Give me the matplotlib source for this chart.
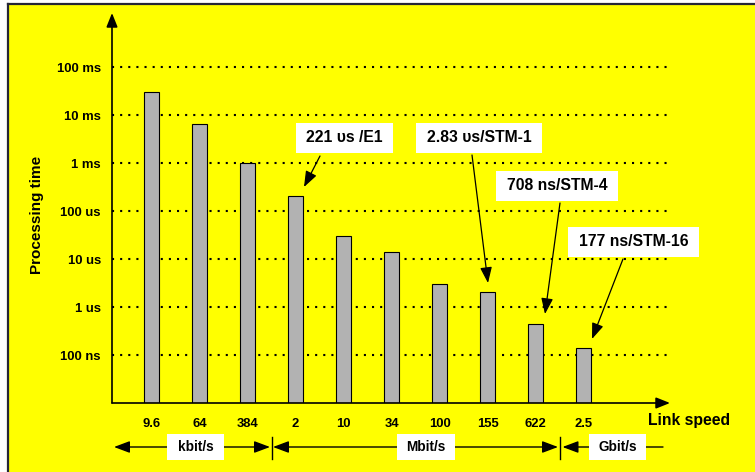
import matplotlib
matplotlib.use("Agg")
import matplotlib.pyplot as plt
from matplotlib.patches import Rectangle, FancyArrowPatch
from matplotlib.lines import Line2D

# ---- data ----
categories = ["9.6", "64", "384", "2", "10", "34", "100", "155", "622", "2.5"]
proc_time_s = [30e-3, 6.6e-3, 1.0e-3, 210e-6, 30e-6, 14e-6, 3.0e-6, 2.1e-6, 0.45e-6, 0.14e-6]
ytick_vals = [1e-7, 1e-6, 1e-5, 1e-4, 1e-3, 1e-2, 1e-1]
ytick_labels = ["100 ns", "1 us", "10 us", "100 us", "1 ms", "10 ms", "100 ms"]
annotations = ["221 \u03c5s /E1", "2.83 \u03c5s/STM-1", "708 ns/STM-4", "177 ns/STM-16"]
unit_labels = ["kbit/s", "Mbit/s", "Gbit/s"]

W, H = 755, 472
plt.rcParams['font.family'] = ['Liberation Sans', 'DejaVu Sans']
plt.rcParams['font.weight'] = 'bold'

fig = plt.figure(figsize=(W / 100, H / 100), dpi=100)
fig.patch.set_facecolor("white")


def fx(px):
    return px / W


def fy(py):
    return 1 - py / H


# background panel
fig.patches.append(Rectangle((fx(8), 0), 1 - fx(8), fy(4), transform=fig.transFigure,
                             facecolor="#ffff00", edgecolor="none", zorder=-5))
fig.lines.append(Line2D([fx(7.5), fx(7.5)], [0, fy(3.5)], transform=fig.transFigure,
                        color="#262636", lw=1.6, zorder=-4))
fig.lines.append(Line2D([fx(7.5), 1], [fy(3.5), fy(3.5)], transform=fig.transFigure,
                        color="#262636", lw=1.6, zorder=-4))

# axes geometry
ax_l, ax_r, ax_b, ax_t = 112, 670, 403, 13
ax = fig.add_axes([fx(ax_l), fy(ax_b), fx(ax_r - ax_l), (ax_b - ax_t) / H], zorder=2)
ax.set_facecolor("none")
for s in ax.spines.values():
    s.set_visible(False)

ymin = 1e-8
ax.set_yscale("log")
x0, sp = 151.5, 48.0
ax.set_xlim((ax_l - x0) / sp, (ax_r - x0) / sp)
ax.set_ylim(ymin, 10 ** (-8 + (ax_b - ax_t) / 48.0))

xs = list(range(len(categories)))
ax.bar(xs, [v - ymin for v in proc_time_s], bottom=ymin, width=15 / 48, color="#b2b2b2",
       edgecolor="black", linewidth=0.8, zorder=3)

# dotted grid lines
grid_end = (668 - ax_l) / (ax_r - ax_l)
for v in ytick_vals:
    ax.plot([0, grid_end], [v, v], transform=ax.get_yaxis_transform(), color="black",
            lw=1.5, linestyle=(0, (1, 2.9)), zorder=2)

ax.set_yticks(ytick_vals)
ax.set_yticklabels(ytick_labels, fontsize=9.4, fontweight="bold")
ax.yaxis.set_minor_locator(matplotlib.ticker.NullLocator())
ax.tick_params(axis="y", length=0, pad=8)
ax.set_xticks(xs)
ax.set_xticklabels(categories, fontsize=9.4, fontweight="bold")
ax.tick_params(axis="x", length=0, pad=11)

# axis arrows
arrow_kw = dict(arrowstyle="-|>,head_length=0.7,head_width=0.28", color="black", lw=1.2,
                mutation_scale=12, shrinkA=0, shrinkB=0)
for (p0, p1) in [((ax_l, ax_b), (ax_l, ax_t)), ((ax_l, ax_b), (ax_r, ax_b))]:
    fig.patches.append(FancyArrowPatch((fx(p0[0]), fy(p0[1])), (fx(p1[0]), fy(p1[1])),
                                       transform=fig.transFigure, zorder=5, **arrow_kw))

fig.text(fx(37), fy(215), "Processing time", rotation=90, ha="center", va="center",
         fontsize=11, fontweight="bold")
fig.text(fx(648), fy(421), "Link speed", ha="left", va="center", fontsize=11.3, fontweight="bold")

# annotation boxes and arrows (pixel layout)
ann_boxes = [(296, 123, 393, 153), (416, 123, 542, 153), (496, 171, 618, 201), (568, 227, 699, 257)]
ann_arrows = [((320, 156), (304, 187)), ((472, 155), (488, 283)),
              ((560, 203), (545, 314)), ((623, 259), (592, 339))]
ann_kw = dict(arrowstyle="-|>,head_length=0.8,head_width=0.3", color="black", lw=0.9,
              mutation_scale=12, shrinkA=0, shrinkB=0)
for txt, (l, t, r, b), (p0, p1) in zip(annotations, ann_boxes, ann_arrows):
    fig.patches.append(Rectangle((fx(l), fy(b)), fx(r - l), (b - t) / H, transform=fig.transFigure,
                                 facecolor="white", edgecolor="none", zorder=4))
    fig.text(fx((l + r) / 2), fy((t + b) / 2), txt, ha="center", va="center",
             fontsize=11.3, fontweight="bold", zorder=6)
    fig.patches.append(FancyArrowPatch((fx(p0[0]), fy(p0[1])), (fx(p1[0]), fy(p1[1])),
                                       transform=fig.transFigure, zorder=5, **ann_kw))

# unit row
uy = 447
unit_kw = dict(color="black", lw=1.0, mutation_scale=12, shrinkA=0, shrinkB=0)
fig.patches.append(FancyArrowPatch((fx(114), fy(uy)), (fx(270), fy(uy)), transform=fig.transFigure,
                                   arrowstyle="<|-|>,head_length=0.8,head_width=0.3", zorder=3, **unit_kw))
fig.patches.append(FancyArrowPatch((fx(273), fy(uy)), (fx(558), fy(uy)), transform=fig.transFigure,
                                   arrowstyle="<|-|>,head_length=0.8,head_width=0.3", zorder=3, **unit_kw))
fig.patches.append(FancyArrowPatch((fx(562.5), fy(uy)), (fx(663), fy(uy)), transform=fig.transFigure,
                                   arrowstyle="<|-,head_length=0.8,head_width=0.3", zorder=3, **unit_kw))
for dx in (271.7, 560):
    fig.lines.append(Line2D([fx(dx), fx(dx)], [fy(437), fy(459)], transform=fig.transFigure,
                            color="black", lw=1.0, zorder=3))
unit_boxes = [(167, 434, 224, 460), (397, 434, 455, 460), (589, 434, 646, 460)]
for txt, (l, t, r, b) in zip(unit_labels, unit_boxes):
    fig.patches.append(Rectangle((fx(l), fy(b)), fx(r - l), (b - t) / H, transform=fig.transFigure,
                                 facecolor="white", edgecolor="none", zorder=4))
    fig.text(fx((l + r) / 2), fy((t + b) / 2), txt, ha="center", va="center",
             fontsize=9.8, fontweight="bold", zorder=6)

fig.savefig("out.png", dpi=100)
